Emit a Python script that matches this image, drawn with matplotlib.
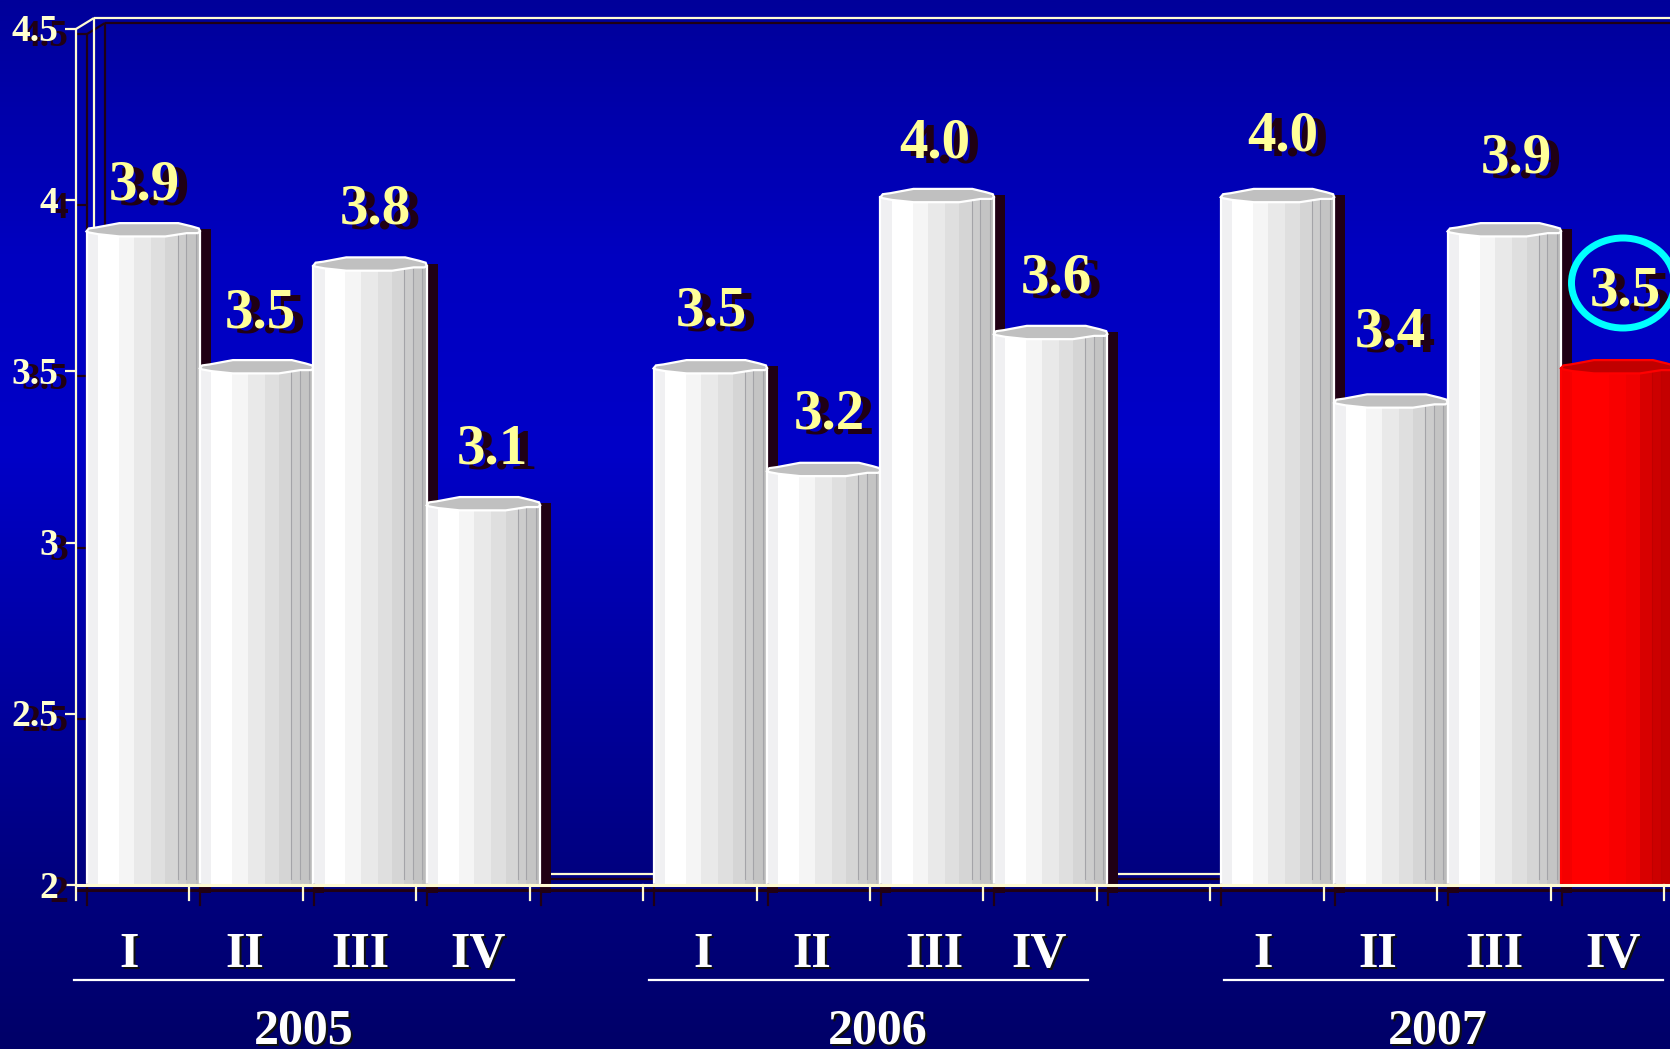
import numpy as np
import matplotlib
matplotlib.use('Agg')
import matplotlib.pyplot as plt
from matplotlib.colors import LinearSegmentedColormap
from matplotlib.patches import Ellipse

W, H = 1670, 1049

# data
values = [3.9, 3.5, 3.8, 3.1, 3.5, 3.2, 4.0, 3.6, 4.0, 3.4, 3.9, 3.5]
slots = [0, 1, 2, 3, 5, 6, 7, 8, 10, 11, 12, 13]
quarters = ['I', 'II', 'III', 'IV'] * 3
years = ['2005', '2006', '2007']
y_ticks = [2, 2.5, 3, 3.5, 4, 4.5]
y_tick_labels = ['2', '2.5', '3', '3.5', '4', '4.5']

# pixel geometry of the plot box
X0, X1 = 76, 1664
Y_BOTTOM, Y_TOP = 885, 29

# cylinder facets: right edge as fraction of the bar width
facet_edges = [0, 0.10, 0.283, 0.42, 0.57, 0.696, 0.803, 0.878, 0.962, 1]
white_facets = ['#f0f0f2', '#ffffff', '#f5f5f5', '#e9e9e9', '#dfdfdf',
                '#d5d5d5', '#cccccc', '#c4c4c4', '#bbbbbb']
red_facets = ['#f40000', '#ff0000', '#ff0000', '#f80000', '#f00000',
              '#d80000', '#cc0000', '#c40000', '#b80000']

# offsets of the value labels from the bar, in pixels
label_dx = [58, 60, 62, 66, 58, 62, 54, 62, 62, 56, 69, 64]
label_dy = [-49, -58, -59, -59, -60, -60, -57, -59, -64, -73, -76, -80]
quarter_px = [129, 245, 360, 478, 703, 812, 934, 1039, 1263, 1378, 1494, 1613]
year_px = [304, 878, 1438]
rule_px = [(74, 514), (649, 1088), (1224, 1663)]

fig = plt.figure(figsize=(W / 100, H / 100), dpi=100)

# background gradient
bg = fig.add_axes([0, 0, 1, 1], zorder=0)
cmap = LinearSegmentedColormap.from_list('bg', [
    (0, '#00009a'), (0.24, '#0000c0'), (0.43, '#0000c8'),
    (0.83, '#000080'), (1, '#000068')])
bg.imshow(np.linspace(0, 1, 512).reshape(-1, 1), cmap=cmap, aspect='auto',
          extent=[0, 1, 0, 1], vmin=0, vmax=1)
bg.axis('off')

ax = fig.add_axes([X0 / W, (H - Y_BOTTOM) / H, (X1 - X0) / W, (Y_BOTTOM - Y_TOP) / H], zorder=1)
ax.set_xlim(0, 14)
ax.set_ylim(2, 4.5)
ax.patch.set_alpha(0)
ax.axis('off')


def xp(px):
    return (px - X0) / (X1 - X0) * 14


def yp(py):
    return 2 + (Y_BOTTOM - py) / (Y_BOTTOM - Y_TOP) * 2.5


def dxp(px):
    return px / (X1 - X0) * 14


def dyp(py):
    return py / (Y_BOTTOM - Y_TOP) * 2.5


CREAM = '#fffbd2'
DARK = '#200014'
SX, SY = 11, 5  # shadow offset in pixels


def line(xs, ys, z):
    ax.plot([xp(v + SX) for v in xs], [yp(v + SY) for v in ys], color=DARK, lw=1.6,
            zorder=z, clip_on=False, solid_capstyle='butt')
    ax.plot([xp(v) for v in xs], [yp(v) for v in ys], color=CREAM, lw=1.6,
            zorder=z + 0.5, clip_on=False, solid_capstyle='butt')


# walls and axes
line([76, 76], [29, 885], 2)
line([94, 94], [18, 874], 2)
line([76, 94], [29, 18], 2)
line([94, 1670], [18, 18], 2)
line([94, 1670], [874, 874], 2)
for t in y_ticks:
    line([65, 76], [Y_BOTTOM - (t - 2) / 2.5 * (Y_BOTTOM - Y_TOP)] * 2, 2)

# bars
bar_w = 1.0
offset = dxp(10.5)
top_x = [0, 0.02, 0.087, 0.29, 0.81, 0.93, 0.99, 1, 0.98, 0.884, 0.696, 0.29, 0.1, 0.02]
top_y = [5, 8, 9, 13.3, 13.3, 10, 8, 5, 3.3, 3.3, 0, 0, 2.3, 4]
for i, (s, v) in enumerate(zip(slots, values)):
    z = 10 + i
    left = s + offset
    is_red = i == len(values) - 1
    colors = red_facets if is_red else white_facets
    edge = '#ff0000' if is_red else '#ffffff'
    h = v - 2
    # drop shadow on the right
    ax.bar(left + bar_w, h + dyp(5) + dyp(8), bottom=2 - dyp(8), width=dxp(11), align='edge',
           color=DARK, zorder=z, clip_on=False)
    for k, c in enumerate(colors):
        a, b = facet_edges[k], facet_edges[k + 1]
        ax.bar(left + a * bar_w, h + dyp(3), bottom=2, width=(b - a) * bar_w + 0.002, align='edge',
               color=c, lw=0, zorder=z + 0.1, clip_on=False)
    for f in [0.803, 0.878, 0.962]:
        ax.plot([left + f * bar_w] * 2, [2 + dyp(6), v], color='#c00000' if is_red else '#a4a4a8',
                lw=0.8, zorder=z + 0.2, clip_on=False)
    ax.plot([left, left], [2, v + dyp(3)], color=edge, lw=1.6, zorder=z + 0.3, clip_on=False)
    ax.plot([left + bar_w] * 2, [2, v + dyp(3)], color=edge, lw=1.6, zorder=z + 0.3, clip_on=False)
    ax.fill([left + a * bar_w for a in top_x], [v - dyp(2) + dyp(b) for b in top_y],
            facecolor='#c00000' if is_red else '#c0c0c0', edgecolor=edge, lw=1.6,
            zorder=z + 0.4, clip_on=False)

# front floor line sits over the bar bases
ax.plot([0, xp(1670)], [2, 2], color=CREAM, lw=2.2, zorder=30, clip_on=False)
ax.plot([0, xp(1670)], [yp(890), yp(890)], color=DARK, lw=2.2, zorder=29, clip_on=False)
for t in list(slots) + [4, 9, 14]:
    tx = X0 + t * (X1 - X0) / 14
    ax.plot([xp(tx + 11)] * 2, [yp(885), yp(905)], color=DARK, lw=1.6, zorder=29, clip_on=False)
    ax.plot([xp(tx)] * 2, [yp(885), yp(900)], color=CREAM, lw=1.6, zorder=30, clip_on=False)

FONT = 'Liberation Serif'

# y tick labels
for t, lab in zip(y_ticks, y_tick_labels):
    ax.text(xp(58 + 10), t + dyp(-8), lab, family=FONT, weight='bold', fontsize=27, color=DARK,
            ha='right', va='center', zorder=31, clip_on=False)
    ax.text(xp(58), t + dyp(-3), lab, family=FONT, weight='bold', fontsize=27, color='#ffffd0',
            ha='right', va='center', zorder=32, clip_on=False)

# value labels
for i, (s, v) in enumerate(zip(slots, values)):
    lx = s + offset + dxp(label_dx[i])
    ly = v - dyp(label_dy[i])
    ax.text(lx + dxp(10), ly - dyp(5), f'{v:.1f}', family=FONT, weight='bold', fontsize=41, color=DARK,
            ha='center', va='center', zorder=33, clip_on=False)
    ax.text(lx, ly, f'{v:.1f}', family=FONT, weight='bold', fontsize=41, color='#ffff99',
            ha='center', va='center', zorder=34, clip_on=False)

# quarter and year labels
for x, lab in zip(quarter_px, quarters):
    ax.text(xp(x + 2), yp(957), lab, family=FONT, weight='bold', fontsize=36, color='#101010',
            ha='center', va='center', zorder=33, clip_on=False)
    ax.text(xp(x), yp(955), lab, family=FONT, weight='bold', fontsize=36, color='white',
            ha='center', va='center', zorder=34, clip_on=False)
for x, lab in zip(year_px, years):
    ax.text(xp(x + 2), yp(1034), lab, family=FONT, weight='bold', fontsize=36, color='#101010',
            ha='center', va='center', zorder=33, clip_on=False)
    ax.text(xp(x), yp(1032), lab, family=FONT, weight='bold', fontsize=36, color='white',
            ha='center', va='center', zorder=34, clip_on=False)
for a, b in rule_px:
    ax.plot([xp(a), xp(b)], [yp(980), yp(980)], color='white', lw=1.6, zorder=33, clip_on=False)

# cyan ring round the last value
ax.add_patch(Ellipse((xp(1623), yp(283)), dxp(103), dyp(90), fill=False, edgecolor='#00ffff',
                     lw=5, zorder=35, clip_on=False))

fig.savefig('out.png', dpi=100)
